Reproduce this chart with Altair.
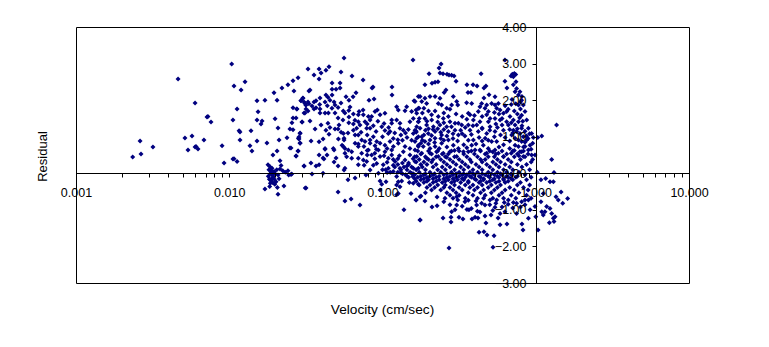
import altair as alt
import pandas as pd

# (log10 velocity, residual)
low_velocity = [
(-2.630,.447),(-2.582,.884),(-2.576,.529),(-2.498,.72),(-2.334,2.58),(-2.289,.966),(-2.269,.638),(-2.243,1.02),(-2.223,1.923),
(-2.223,.72),(-2.217,.73),(-2.204,.665),(-2.165,.91),(-2.145,1.54),(-2.139,1.55),(-2.119,1.40),(-2.047,.75),(-2.034,.28),
(-1.984,2.99),(-1.976,1.46),(-1.976,.39),(-1.969,.40),(-1.949,.32),(-1.969,2.39),(-1.949,1.76),(-1.897,2.50),(-1.923,2.28),
(-1.936,1.16),(-1.93,1.13),(-1.93,.91),(-1.858,1.16),(-1.865,.75),(-1.852,.61),(-1.819,1.98),(-1.812,1.68),(-1.819,1.46),
(-1.786,1.43),(-1.793,1.35),(-1.819,.88),(-1.767,2.0),(-1.754,.83),(-1.708,2.2),(-1.688,2.0),(-1.701,1.49),(-1.682,1.24),
(-1.675,.91),(-1.715,.50),(-1.688,.61),(-1.669,.34),(-1.656,2.33),(-1.617,2.42),(-1.584,2.53),(-1.551,2.61),(-1.578,2.25),
(-1.584,1.79),(-1.558,1.76),(-1.584,1.51),(-1.564,1.51),(-1.591,1.38),(-1.525,1.40),(-1.604,1.21),(-1.584,1.19),(-1.623,.97),
(-1.604,.69),(-1.564,.47),(-1.551,.61),(-1.538,1.10),(-1.545,.99),(-1.545,.94),(-1.538,.83),(-1.512,1.65),(-1.512,.20),
(-1.532,1.98),(-1.519,2.05),(-1.506,1.91),
(-1.747,.23),(-1.734,.18),(-1.721,.14),(-1.728,.07),(-1.708,.05),(-1.734,-.02),(-1.717,-.05),(-1.699,-.02),(-1.738,-.16),
(-1.723,-.14),(-1.706,-.16),(-1.682,-.05),(-1.732,-.27),(-1.717,-.25),(-1.736,-.36),(-1.695,-.23),(-1.675,-.15),(-1.686,-.39),
(-1.767,-.43),(-1.682,-.57),(-1.643,-.35),(-1.504,-.40),(-1.662,.21),(-1.669,.12),(-1.651,.07),(-1.634,.03),(-1.617,.07),
(-1.612,-.05),(-1.592,-.02),(-1.741,.10),(-1.725,.02),(-1.712,-.10),(-1.729,-.20),(-1.703,-.30),(-1.745,-.08),(-1.690,.10),
]
mid_upper = [
(-1.251,3.15),(-.801,3.10),(-1.486,2.85),(-1.414,2.85),(-1.349,2.91),(-1.369,2.82),(-1.401,2.74),(-1.447,2.69),(-1.271,2.77),
(-1.199,2.66),(-1.414,2.58),(-1.329,2.47),(-1.277,2.47),(-1.127,2.55),(-1.329,2.30),(-1.303,2.30),(-1.277,2.33),(-1.473,2.28),
(-1.480,2.25),(-1.062,2.36),(-1.068,2.33),(-.938,2.36),(-.938,2.14),(-1.173,2.20),(-1.238,2.09),(-1.192,2.09),(-1.219,2.0),
(-1.088,2.0),(-1.055,2.03),(-1.408,2.06),(-1.369,2.14),(-1.356,2.08),(-1.329,2.14),(-1.519,2.06),(-1.532,1.99),(-1.512,1.95),
(-1.486,1.95),(-1.480,1.90),(-1.447,1.95),(-1.434,1.98),(-1.375,1.95),(-1.343,2.0),(-1.316,1.95),(-1.310,1.87),(-1.271,1.92),
(-1.447,1.76),(-1.499,1.76),(-1.434,1.79),(-1.486,1.70),(-1.506,1.65),(-1.560,1.76),(-1.408,1.76),(-1.408,1.65),(-1.375,1.65),
(-1.353,1.65),(-1.310,1.65),(-1.290,1.51),(-1.258,1.46),(-1.219,1.54),(-1.245,1.65),(-1.256,1.70),(-1.212,1.81),(-1.190,1.62),
(-1.525,1.40),(-1.473,1.43),(-1.440,1.21),(-1.401,1.32),(-1.356,1.37),(-1.343,1.25),(-1.369,1.18),(-1.349,1.07),(-1.310,1.21),
(-1.284,1.32),(-1.290,1.21),(-1.538,1.09),(-1.549,.96),(-1.538,.82),(-1.466,.88),(-1.414,.86),(-1.388,.94),(-1.255,1.09),
(-1.225,1.10),(-1.190,1.18),(-1.288,.94),(-1.251,.96),(-1.251,.91),(-1.375,.68),(-1.321,.68),(-1.264,.77),(-1.245,.68),
(-1.153,1.69),(-1.127,1.73),(-1.158,1.60),(-1.125,1.60),(-1.092,1.55),(-1.071,1.55),(-1.049,1.69),(-1.034,1.73),(-1.016,1.60),
(-.984,1.64),(-.940,1.46),(-.908,1.82),(-.897,1.73),(-.853,1.71),(-.842,1.82),(-.794,1.98),(-.766,2.10),(-.781,1.73),(-.762,1.78),
(-.810,1.69),(-.821,1.41),(-.799,1.50),(-.766,1.41),(-.777,1.27),(-1.158,1.41),(-1.147,1.32),(-1.169,1.23),(-1.114,1.41),
(-1.081,1.46),(-1.103,1.23),(-1.081,1.23),(-1.042,1.14),(-1.005,1.27),(-.984,1.17),(-.962,1.09),(-.940,1.37),(-.908,1.46),
(-.886,1.37),(-.886,1.23),(-.831,1.20),(-.864,1.18),(-.951,1.14),(-1.179,1.05),(-1.158,1.05),(-1.136,.91),(-1.114,.87),
(-1.081,.91),(-1.179,.82),(-1.158,.80),(-1.121,.73),(-1.081,.82),(-1.038,.87),(-1.049,.75),(-1.016,.82),(-.984,.77),(-.951,.87),
(-.929,.73),(-.897,.82),(-.853,.73),(-.821,.68),(-.788,.87),(-.766,1.0),(-.799,1.09),(-.766,.73),
(-1.10,1.35),(-1.06,1.30),(-1.03,1.42),(-.99,1.36),(-.96,1.25),(-.92,1.10),(-.88,1.05),(-.84,.98),(-.81,.90),(-.93,.95),(-.90,.92),
(-1.00,1.00),(-1.06,1.00),(-1.10,1.05),(-1.14,1.12),(-1.19,1.35),(-.87,.90),(-.97,.68),(-1.04,.66),(-1.10,.62),(-.78,1.15),(-.85,1.10),
(-1.50,1.86),(-1.46,1.84),(-1.41,1.88),(-1.36,1.85),(-1.33,1.78),(-1.29,1.80),(-1.22,1.72),(-1.18,1.45),(-1.22,1.38),(-1.27,1.12),
]
mid_lower = [
(-1.551,.61),(-1.564,.47),(-1.597,.69),(-1.512,.20),(-1.467,.28),(-1.434,.20),(-1.414,.23),(-1.375,.66),(-1.414,.50),(-1.388,.42),
(-1.362,.50),(-1.382,.39),(-1.316,.64),(-1.303,.42),(-1.316,.31),(-1.290,.20),(-1.245,.14),(-1.251,.09),(-1.460,-.02),(-1.388,0),
(-1.597,-.03),(-1.225,-.18),(-1.179,-.13),(-1.108,-.05),(-1.499,-.40),(-1.290,-.51),(-1.245,-.76),(-1.205,-.70),(-1.147,-.87),
(-.860,-1.00),(-.755,-1.28),(-.814,-.55),(-.781,-.73),(-.755,-.64),(-1.016,-.21),(-1.005,-.30),(-.977,-.23),(-1.016,-.46),
(-.908,-.09),(-.897,-.23),(-.875,-.21),(-.908,-.32),(-.886,-.37),(-.897,-.55),(-.908,-.59),(-.825,-.25),(-.799,-.27),(-.766,-.30),
(-.803,-.09),(-1.256,.73),(-1.223,.64),(-1.245,.55),(-1.201,.59),(-1.234,.45),(-1.201,.41),(-1.158,.73),(-1.136,.55),(-1.158,.41),
(-1.125,.36),(-1.158,.23),(-1.092,.64),(-1.071,.50),(-1.103,.32),(-1.060,.22),(-1.027,.64),(-1.016,.46),(-1.038,.27),(-.984,.59),
(-.962,.41),(-.995,.23),(-.962,.14),(-.940,.64),(-.918,.32),(-.886,.14),(-.864,.59),(-.853,.36),(-.821,.50),(-.788,.32),(-.766,.14),
(-.799,.14),(-1.081,.09),(-1.027,0),
(-1.10,.50),(-1.05,.55),(-.99,.48),(-.94,.50),(-.89,.48),(-.90,.40),(-.87,.28),(-.83,.28),(-.80,.40),(-.93,.22),(-.97,.30),(-1.00,.10),
(-.93,.05),(-.88,.02),(-.84,.20),(-.81,.00),(-.97,.02),(-1.05,.40),(-1.12,.22),
]
high_upper = [
(-.618,2.99),(-.631,2.88),(-.696,2.72),(-.625,2.74),(-.605,2.72),(-.579,2.71),(-.566,2.69),(-.549,2.68),(-.533,2.66),(-.520,2.52),
(-.723,2.42),(-.677,2.46),(-.657,2.49),(-.638,2.50),(-.357,2.72),(-.449,2.42),(-.409,2.42),(-.383,2.39),(-.338,2.33),(-.325,2.39),
(-.442,2.21),(-.423,2.21),(-.305,2.15),(-.338,2.06),(-.266,2.09),(-.586,2.28),(-.598,2.21),(-.201,2.52),(-.188,2.33),(-.201,3.10),
(-.153,2.71),(-.140,2.73),(-.161,2.66),(-.146,2.64),(-.131,2.70),(-.129,2.50),(-.146,2.42),(-.125,2.32),(-.135,2.23),(-.113,2.14),
(-.103,2.23),(-.092,2.0),(-.081,1.87),(-.113,1.87),(-.070,1.69),(-.059,1.46),(-.092,1.59),(.136,1.32),(.039,1.02),(.013,.98),
(-.016,.98),(-.048,1.23),(-.027,1.09),(-.059,.91),(-.037,.77),(-.070,.73),(-.048,.64),(-.092,.59),(-.081,.46),(-.027,.50),(-.005,.50),
(-.135,1.32),(-.113,1.41),(-.092,1.23),(-.146,1.18),(-.125,1.14),(-.103,1.09),(-.081,1.0),(-.157,1.05),(-.135,.96),(-.113,.91),
(-.092,.87),(-.135,.77),(-.113,.73),(-.103,.59),(-.266,1.87),(-.244,1.91),(-.255,1.78),(-.233,1.73),(-.211,1.64),(-.190,1.69),
(-.168,1.55),(-.146,1.46),(-.266,1.50),(-.233,1.46),(-.190,1.41),(-.211,1.18),(-.179,1.32),(-.288,1.91),(-.320,1.87),(-.364,1.82),
(-.353,1.91),(-.331,1.78),(-.309,1.69),(-.298,1.50),(-.320,1.60),(-.451,1.93),(-.418,1.91),(-.440,1.64),(-.429,1.60),(-.375,1.69),
(-.407,1.46),(-.364,1.41),(-.440,1.32),(-.385,1.32),(-.429,1.18),(-.375,1.14),(-.309,1.41),(-.298,1.27),(-.266,1.14),(-.320,1.09),
(-.255,.87),(-.288,.87),(-.342,.77),(-.407,.91),(-.418,.77),(-.472,.59),(-.440,.59),(-.396,.64),(-.364,.64),(-.320,.55),(-.266,.64),
(-.244,.55),(-.211,.46),(-.538,2.10),(-.516,1.96),(-.509,1.87),(-.549,1.87),(-.560,1.75),(-.581,1.78),(-.625,2.05),(-.657,2.10),
(-.690,2.10),(-.723,2.05),(-.755,2.10),(-.788,1.96),(-.712,1.91),(-.744,1.96),(-.636,1.91),(-.614,1.87),(-.657,1.70),(-.766,1.78),
(-.777,1.64),(-.570,1.55),(-.603,1.50),(-.636,1.55),(-.679,1.46),(-.723,1.50),(-.766,1.41),(-.560,1.41),(-.527,1.37),(-.505,1.37),
(-.483,1.32),(-.581,1.27),(-.625,1.32),(-.668,1.27),(-.712,1.32),(-.755,1.23),(-.788,1.18),(-.527,1.18),(-.505,1.05),(-.462,1.02),
(-.570,1.14),(-.614,1.05),(-.657,1.14),(-.701,1.09),(-.744,1.0),(-.777,.96),(-.657,.96),(-.690,.91),(-.723,.87),(-.614,.82),(-.570,.91),
(-.538,.77),(-.505,.68),(-.734,.73),(-.690,.68),(-.766,.77),(-.657,.73),(-.788,.64),(-.744,.55),(-.690,.55),(-.647,.59),(-.603,.55),
(-.560,.59),(-.516,.46),(-.777,.46),(-.712,.41),(-.636,.46),(-.581,.44),
(-.74,1.65),(-.70,1.70),(-.76,1.50),(-.71,1.42),(-.64,1.40),(-.60,1.38),(-.55,1.27),(-.64,1.22),(-.72,1.18),(-.68,1.03),(-.62,.95),(-.58,1.02),
(-.54,.95),(-.74,.90),(-.70,.80),(-.63,.68),(-.58,.72),(-.53,.62),(-.47,.78),(-.44,.90),(-.37,.98),(-.33,.96),(-.27,1.00),(-.23,1.05),
(-.20,.98),(-.17,.88),(-.21,.78),(-.31,.68),(-.28,.58),(-.17,.68),(-.16,.55),(-.11,.48),(-.14,.62),(-.08,.72),(-.07,.85),(-.05,.95),
(-.04,1.08),(-.07,1.15),(-.09,1.30),(-.12,1.22),(-.15,1.10),(-.17,1.20),(-.105,1.52),(-.12,1.62),(-.14,1.70),(-.10,1.76),(-.085,1.42),
(-.13,1.90),(-.10,1.95),(-.09,2.10),(-.155,2.02),(-.18,1.75),(-.16,1.88),(-.20,1.85),(-.24,1.62),(-.27,1.66),(-.06,1.02),(-.02,.82),(-.03,.66),
(-.78,1.12),(-.73,1.05),(-.67,1.20),(-.60,1.20),(-.54,1.08),(-.49,1.18),(-.46,1.25),(-.41,1.30),(-.35,1.24),(-.30,1.18),(-.25,1.25),(-.22,1.32),
(-.75,.82),(-.66,.84),(-.60,.90),(-.51,.88),(-.45,.70),(-.39,.80),(-.35,.88),(-.31,.90),(-.24,.72),(-.70,1.22),(-.62,1.12),(-.48,1.08),(-.42,1.06),
(-.52,1.62),(-.48,1.55),(-.45,1.48),(-.40,1.58),(-.35,1.55),(-.26,1.35),(-.22,1.50),(-.60,1.65),(-.68,1.60),(-.73,1.78),(-.35,1.22),(-.16,1.38),
]
high_lower = [
(-.566,-2.04),(-.755,-1.28),(-.279,-2.02),(-.370,-1.61),(-.338,-1.60),(-.318,-1.69),(-.272,-1.71),(-.083,-1.55),(-.090,-1.39),
(.015,-1.55),(-.233,-1.41),(-.188,-1.39),(-.605,-1.22),(-.553,-1.20),(-.553,-1.33),(-.501,-1.20),(-.475,-1.25),(-.416,-1.25),
(-.396,-1.20),(-.377,-1.22),(-.449,-.99),(-.436,-1.0),(-.331,-1.17),(-.325,-1.36),(-.292,-1.14),(-.246,-1.22),(-.381,-1.04),
(-.364,-1.06),(-.331,-.87),(-.353,-.82),(-.386,-.87),(-.677,-.92),(-.644,-.89),(-.723,-.76),(-.749,-.62),(-.781,-.73),(-.644,-.65),
(-.592,-.68),(-.549,-1.05),(-.527,-1.0),(-.516,-.87),(-.509,-.73),(-.516,-.64),(-.462,-.78),(-.266,-.93),(-.299,-.73),(-.255,-.73),
(-.205,-.80),(-.233,-1.10),(-.201,-1.05),(-.146,-.80),(-.125,-.82),(-.092,-.78),(-.125,-1.10),(-.048,-1.23),(-.037,-1.0),(-.005,-.91),
(0,-1.19),(.039,-1.05),(.049,-1.14),(.071,-.91),(.093,-.96),(.104,-1.10),(.060,-1.05),(.115,-1.23),(.126,-1.19),(.089,-1.35),
(.119,-1.32),(.132,-.64),(.165,-.51),(.176,-.82),(.208,-.69),(.147,-.73),(.049,-.55),(.034,-.78),(.115,-.23),(.104,.38),(.119,.02),
(.034,-.18),(.065,-.14),(.093,-.23),(-.048,-.73),(-.070,-.73),(-.179,-.73),
(-.60,-.78),(-.56,-.86),(-.48,-.90),(-.44,-.74),(-.39,-.76),(-.34,-.68),(-.30,-.86),(-.26,-.82),(-.22,-.92),(-.18,-.85),(-.15,-.95),
(-.10,-.92),(-.07,-.86),(-.42,-.96),(-.28,-1.02),
]
# dense blob, estimated band by band: residual, log10 velocity readings
blob_bands = [
(.61,[-.77,-.70,-.64,-.55,-.50,-.42,-.36,-.30,-.22,-.15,-.08]),
(.53,[-.75,-.68,-.61,-.57,-.47,-.40,-.33,-.26,-.19,-.12,-.05]),
(.45,[-.79,-.72,-.65,-.59,-.53,-.45,-.38,-.31,-.27,-.21,-.14,-.07]),
(.38,[-.93,-.76,-.70,-.67,-.62,-.56,-.50,-.43,-.36,-.33,-.25,-.18,-.10,-.02]),
(.31,[-.78,-.73,-.68,-.60,-.54,-.48,-.42,-.35,-.28,-.23,-.16,-.03]),
(.24,[-.90,-.83,-.75,-.71,-.65,-.58,-.52,-.46,-.39,-.32,-.26,-.20,-.12,-.06]),
(.17,[-.92,-.86,-.81,-.74,-.67,-.61,-.56,-.49,-.44,-.37,-.30,-.24,-.17,-.09]),
(.10,[-.98,-.88,-.84,-.78,-.72,-.64,-.59,-.53,-.47,-.41,-.35,-.28,-.21,-.15,-.04]),
(.03,[-.95,-.90,-.82,-.76,-.69,-.62,-.55,-.50,-.43,-.38,-.31,-.25,-.19,-.11,.01]),
(-.01,[-.87,-.80,-.72,-.66,-.58,-.52,-.47,-.41,-.35,-.29,-.23,-.16]),
(-.04,[-.85,-.79,-.73,-.67,-.60,-.54,-.48,-.45,-.40,-.33,-.27,-.22,-.16,-.07]),
(-.08,[-.84,-.75,-.69,-.63,-.56,-.50,-.43,-.37,-.31,-.25,-.19,-.12]),
(-.11,[-.83,-.77,-.71,-.65,-.58,-.52,-.46,-.42,-.36,-.30,-.24,-.18,-.13,-.03]),
(-.15,[-.79,-.73,-.67,-.60,-.54,-.48,-.40,-.34,-.27,-.21,-.16]),
(-.18,[-.75,-.70,-.63,-.57,-.51,-.47,-.39,-.34,-.28,-.21,-.15,-.06]),
(-.22,[-.78,-.71,-.65,-.59,-.53,-.44,-.36,-.30,-.24,-.18]),
(-.25,[-.73,-.67,-.61,-.55,-.49,-.44,-.37,-.32,-.26,-.20,-.10]),
(-.32,[-.76,-.69,-.64,-.59,-.53,-.46,-.41,-.35,-.29,-.23,-.12,-.04]),
(-.39,[-.71,-.66,-.60,-.56,-.50,-.43,-.38,-.31,-.25,-.17,-.08]),
(-.46,[-.68,-.62,-.54,-.48,-.40,-.34,-.27,-.20,-.14,-.05]),
(-.53,[-.72,-.58,-.52,-.44,-.36,-.29,-.22,-.11]),
(-.60,[-.56,-.50,-.41,-.33,-.24,-.16,-.06]),
(-.68,[-.54,-.46,-.38,-.28,-.21,-.13,-.03]),
]

x_tick_values = [m * 10.0 ** e for e in (-3, -2, -1, 0) for m in range(1, 10)] + [10.0]
y_tick_values = [4, 3, 2, 1, 0, -1, -2, -3]

pairs = low_velocity + mid_upper + mid_lower + high_upper + high_lower
pairs = pairs + [(v, r) for r, vs in blob_bands for v in vs]
df = pd.DataFrame(pairs, columns=["logv", "Residual"])
df["Velocity"] = 10.0 ** df["logv"]

font = "Liberation Sans"
x_axis = alt.Axis(
    values=x_tick_values, offset=-110, orient="bottom", grid=False, zindex=1,
    title="Velocity (cm/sec)", titleFont=font, titleFontSize=13.7, titleFontWeight="normal",
    titleColor="black", titleX=306, titleY=129,
    labelExpr="abs(log(datum.value)/LN10-round(log(datum.value)/LN10))<0.000001 ? format(datum.value,'.3f') : ''",
    labelFont=font, labelFontSize=12.5, labelColor="black", labelOverlap=False, labelFlush=False, labelBound=False,
    labelPadding=9, tickColor="black", tickSize=4, tickWidth=1, domainColor="black", domainWidth=1,
)
y_axis = alt.Axis(
    values=y_tick_values, offset=-460, orient="left", grid=False, zindex=1, format=".2f",
    title="Residual", titleFont=font, titleFontSize=13, titleFontWeight="normal", titleColor="black",
    titleX=-487, titleY=129, titleAngle=270,
    labelFont=font, labelFontSize=12.5, labelColor="black", labelOverlap=False, labelBound=False,
    labelPadding=6, tickColor="black", tickSize=4, tickWidth=1, domainColor="black", domainWidth=1,
)

chart = (
    alt.Chart(df)
    .mark_point(shape="diamond", filled=True, size=25, color="#000080", opacity=1)
    .encode(
        x=alt.X("Velocity:Q", scale=alt.Scale(type="log", domain=[0.001, 10], nice=False), axis=x_axis),
        y=alt.Y("Residual:Q", scale=alt.Scale(domain=[-3, 4], nice=False, zero=False), axis=y_axis),
    )
    .properties(width=613, height=256,
                padding={"left": 68, "top": 19, "right": 70, "bottom": 48},
                autosize=alt.AutoSizeParams(type="none"))
    .configure_view(stroke="black", strokeWidth=1)
)
chart.save("out.html", embed_options={"renderer": "svg", "actions": False})
